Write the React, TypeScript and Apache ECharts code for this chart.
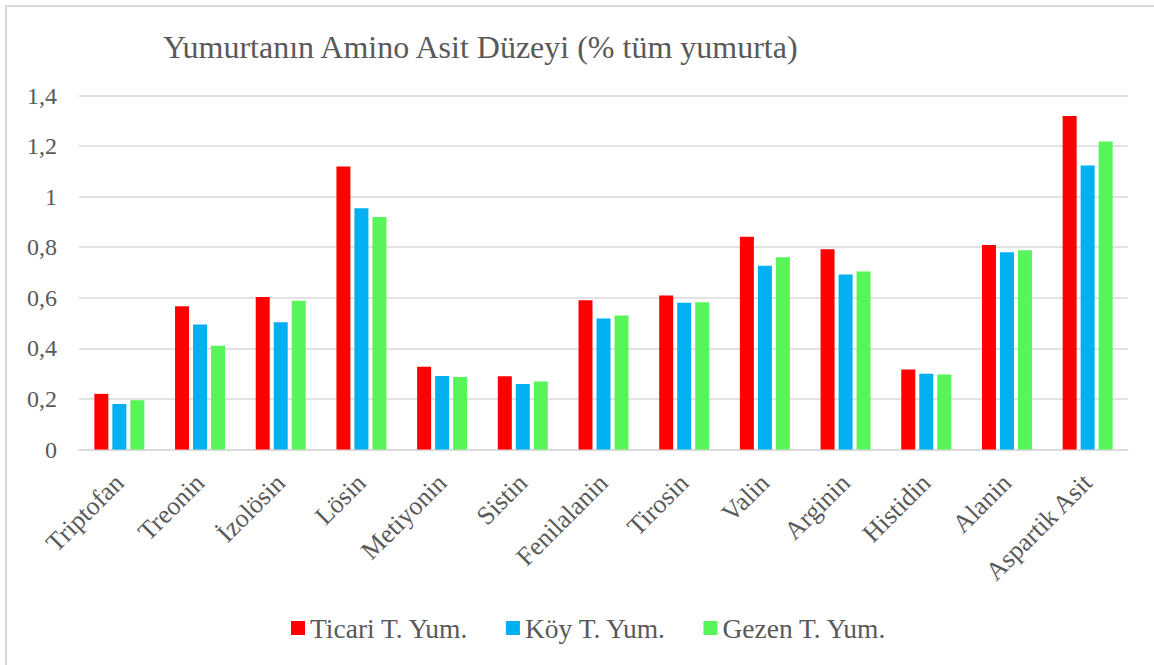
import React, { useEffect, useRef } from "react";
import * as echarts from "echarts";

const categories = ["Triptofan", "Treonin", "İzolösin", "Lösin", "Metiyonin", "Sistin", "Fenilalanin", "Tirosin", "Valin", "Arginin", "Histidin", "Alanin", "Aspartik Asit"];
const ticari = [0.22, 0.567, 0.603, 1.119, 0.327, 0.29, 0.59, 0.609, 0.841, 0.792, 0.316, 0.809, 1.319];
const koy = [0.18, 0.494, 0.503, 0.954, 0.291, 0.259, 0.518, 0.58, 0.727, 0.692, 0.3, 0.78, 1.123];
const gezen = [0.195, 0.41, 0.588, 0.919, 0.287, 0.269, 0.53, 0.582, 0.76, 0.704, 0.297, 0.788, 1.218];
const seriesNames = ["Ticari T. Yum.", "Köy T. Yum.", "Gezen T. Yum."];
const colors = ["#FF0000", "#00B0F0", "#58F55A"];
const titleText = "Yumurtanın Amino Asit Düzeyi (% tüm yumurta)";

const FONT = "'Liberation Serif', 'Times New Roman', serif";
const TEXT = "#595959";

export default function App() {
  const ref = useRef<HTMLDivElement>(null);
  useEffect(() => {
    if (!ref.current) return;
    const chart = echarts.init(ref.current, null, { renderer: "svg" });
    const data = [ticari, koy, gezen];
    chart.setOption({
      animation: false,
      backgroundColor: "#ffffff",
      graphic: [
        {
          type: "rect",
          shape: { x: 6, y: 6, width: 1300, height: 800 },
          style: { fill: "none", stroke: "#d9d9d9", lineWidth: 2 },
          silent: true,
        },
      ],
      title: {
        text: titleText,
        left: 158,
        top: 26,
        textStyle: { fontFamily: FONT, fontSize: 32, fontWeight: "normal", color: TEXT },
      },
      legend: {
        data: seriesNames,
        left: 286,
        top: 609,
        itemWidth: 14,
        itemHeight: 14,
        itemGap: 37,
        icon: "rect",
        textStyle: { fontFamily: FONT, fontSize: 27.5, color: TEXT },
      },
      grid: { left: 79, right: 26, top: 95.5, bottom: 215.5 },
      xAxis: {
        type: "category",
        data: categories,
        axisLine: { lineStyle: { color: "#d9d9d9", width: 1.5 } },
        axisTick: { show: false },
        axisLabel: {
          rotate: 45,
          interval: 0,
          margin: 29,
          fontFamily: FONT,
          fontSize: 26,
          color: TEXT,
        },
      },
      yAxis: {
        type: "value",
        min: 0,
        max: 1.4,
        interval: 0.2,
        axisLine: { show: false },
        axisTick: { show: false },
        splitLine: { lineStyle: { color: "#d9d9d9", width: 1.5 } },
        axisLabel: {
          margin: 22,
          fontFamily: FONT,
          fontSize: 24,
          color: TEXT,
          formatter: (v: number) => String(Number(v.toFixed(1))).replace(".", ","),
        },
      },
      series: seriesNames.map((name, i) => ({
        name,
        type: "bar",
        data: data[i],
        barWidth: 14,
        barGap: "28.6%",
        itemStyle: { color: colors[i] },
      })),
    });
    return () => chart.dispose();
  }, []);
  return (
    <div style={{ position: "fixed", left: 0, top: 0, width: 1154, height: 665, background: "#fff" }}>
      <div ref={ref} style={{ width: 1154, height: 665 }} />
    </div>
  );
}
